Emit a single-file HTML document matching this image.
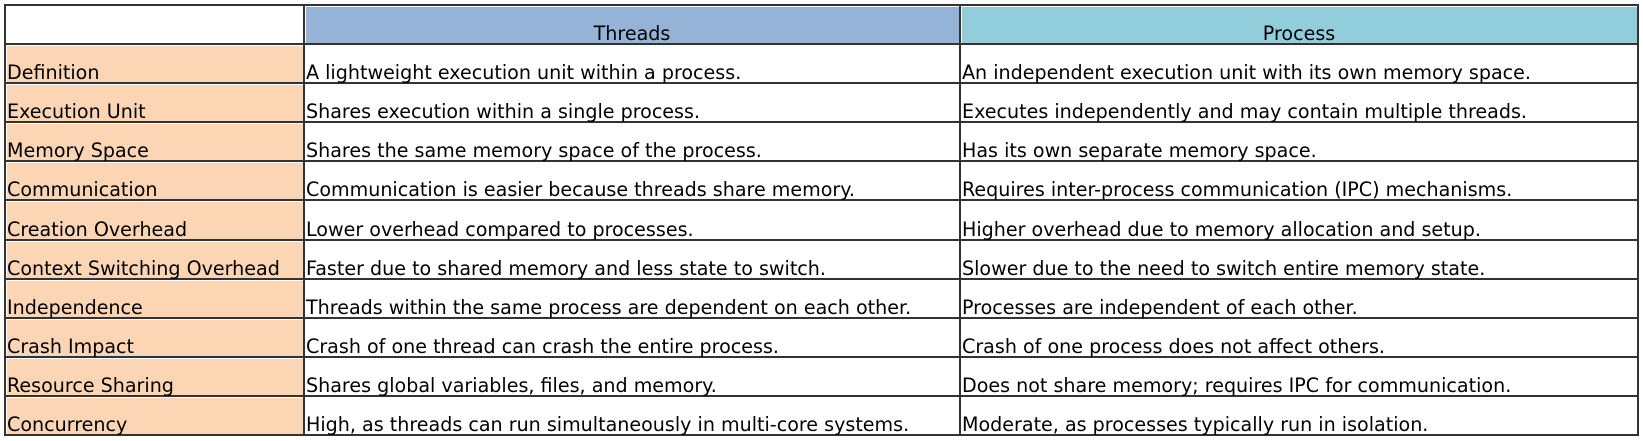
<!DOCTYPE html>
<html><head><meta charset="utf-8"><style>
body{margin:0;width:1643px;height:441px;background:#fff;position:relative;overflow:hidden;font-family:"DejaVu Sans","Liberation Sans",sans-serif;font-size:19.1px;color:#000}
.f{position:absolute;}
.t{position:absolute;white-space:nowrap;line-height:22px}
</style></head><body>
<div id="g"></div>
<script>
const rows=[["Definition","A lightweight execution unit within a process.","An independent execution unit with its own memory space."],
["Execution Unit","Shares execution within a single process.","Executes independently and may contain multiple threads."],
["Memory Space","Shares the same memory space of the process.","Has its own separate memory space."],
["Communication","Communication is easier because threads share memory.","Requires inter-process communication (IPC) mechanisms."],
["Creation Overhead","Lower overhead compared to processes.","Higher overhead due to memory allocation and setup."],
["Context Switching Overhead","Faster due to shared memory and less state to switch.","Slower due to the need to switch entire memory state."],
["Independence","Threads within the same process are dependent on each other.","Processes are independent of each other."],
["Crash Impact","Crash of one thread can crash the entire process.","Crash of one process does not affect others."],
["Resource Sharing","Shares global variables, files, and memory.","Does not share memory; requires IPC for communication."],
["Concurrency","High, as threads can run simultaneously in multi-core systems.","Moderate, as processes typically run in isolation."]];
const xs=[5,304,960,1638];
let ys=[5,44];for(let i=1;i<=10;i++)ys.push(Math.round(44+i*39.1));
let h='';
const hdr=["#fff","#95b3d7","#92cddc"];
for(let c=0;c<3;c++)h+=`<div class="f" style="left:${xs[c]+2}px;top:${ys[0]+2}px;width:${xs[c+1]-xs[c]-3}px;height:${ys[1]-ys[0]-3}px;background:${hdr[c]}"></div>`;
for(let r=0;r<10;r++)h+=`<div class="f" style="left:${xs[0]+2}px;top:${ys[r+1]+2}px;width:${xs[1]-xs[0]-3}px;height:${ys[r+2]-ys[r+1]-3}px;background:#fcd5b4"></div>`;
for(const x of xs)h+=`<div class="f" style="left:${x-1}px;top:${ys[0]-1}px;width:2px;height:${ys[11]-ys[0]+2}px;background:#333"></div>`;
for(const y of ys)h+=`<div class="f" style="left:${xs[0]-1}px;top:${y-1}px;width:${xs[3]-xs[0]+2}px;height:2px;background:#333"></div>`;
h+=`<div class="t" style="left:${xs[1]}px;width:${xs[2]-xs[1]}px;text-align:center;top:${ys[1]-21}px">Threads</div>`;
h+=`<div class="t" style="left:${xs[2]}px;width:${xs[3]-xs[2]}px;text-align:center;top:${ys[1]-21}px">Process</div>`;
for(let r=0;r<10;r++)for(let c=0;c<3;c++)h+=`<div class="t" style="left:${xs[c]+2}px;top:${ys[r+2]-21}px">${rows[r][c]}</div>`;
document.getElementById('g').innerHTML=h;
</script>
</body></html>
